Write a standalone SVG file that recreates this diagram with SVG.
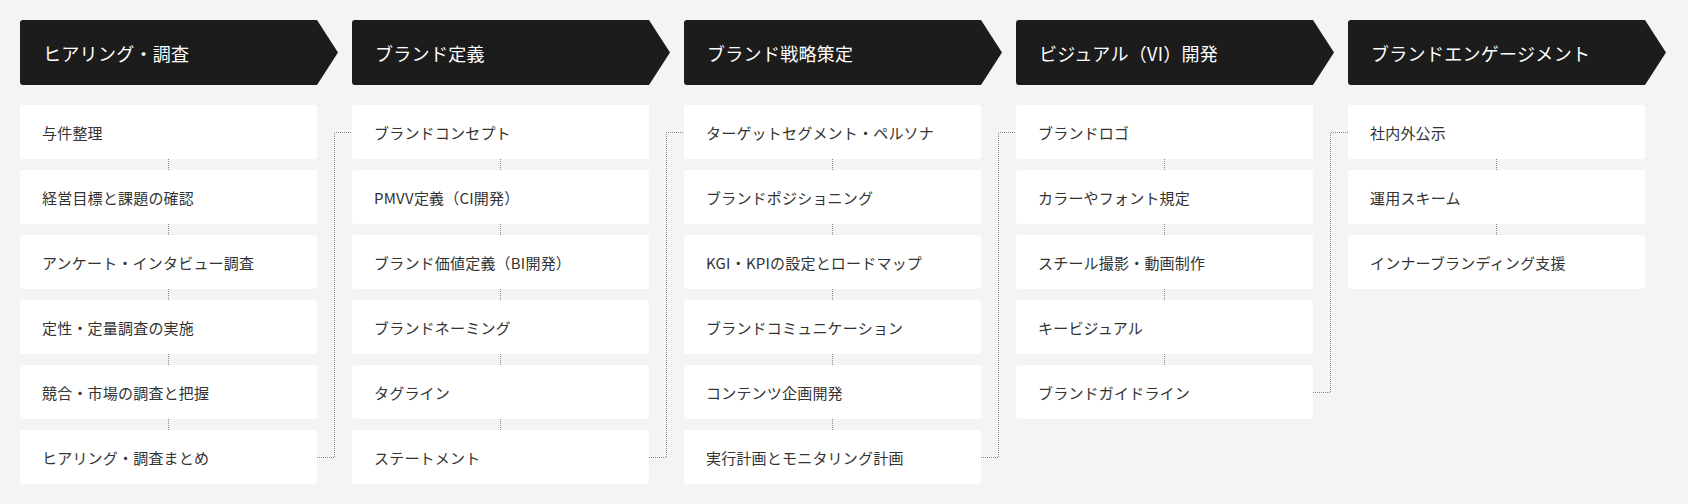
<svg xmlns="http://www.w3.org/2000/svg" width="1688" height="504" viewBox="0 0 1688 504">
<defs>
<style>
.hd{fill:#1c1c1c}
.ht{fill:#ffffff;font-family:"Noto Sans CJK JP","Noto Sans",sans-serif;font-size:18px;font-weight:400;letter-spacing:0.3px;dominant-baseline:central}
.bx{fill:#ffffff}
.bt{fill:#333333;font-family:"Noto Sans CJK JP","Noto Sans",sans-serif;font-size:15px;font-weight:400;letter-spacing:0.2px;dominant-baseline:central}
.cn{fill:none;stroke:#8a8a8a;stroke-width:1;stroke-dasharray:1 1}
</style>
</defs>
<rect width="1688" height="504" fill="#f4f4f4"/>
<g id="connectors">
<path class="cn" d="M168.5 159V170M168.5 224V235M168.5 289V300M168.5 354V365M168.5 419V430"/>
<path class="cn" d="M500.5 159V170M500.5 224V235M500.5 289V300M500.5 354V365M500.5 419V430"/>
<path class="cn" d="M832.5 159V170M832.5 224V235M832.5 289V300M832.5 354V365M832.5 419V430"/>
<path class="cn" d="M1164.5 159V170M1164.5 224V235M1164.5 289V300M1164.5 354V365"/>
<path class="cn" d="M1496.5 159V170M1496.5 224V235"/>
<path class="cn" d="M317 457.5H334.5V132.5H352"/>
<path class="cn" d="M649 457.5H666.5V132.5H684"/>
<path class="cn" d="M981 457.5H998.5V132.5H1016"/>
<path class="cn" d="M1313 392.5H1330.5V132.5H1348"/>
</g>
<g id="col1">
<path class="hd" d="M23 20H317L338 52.5L317 85H23Q20 85 20 82V23Q20 20 23 20Z"/>
<text class="ht" x="43" y="53">ヒアリング・調査</text>
<rect class="bx" x="20" y="105" width="297" height="54" rx="3"/><text class="bt" x="42" y="132.5">与件整理</text>
<rect class="bx" x="20" y="170" width="297" height="54" rx="3"/><text class="bt" x="42" y="197.5">経営目標と課題の確認</text>
<rect class="bx" x="20" y="235" width="297" height="54" rx="3"/><text class="bt" x="42" y="262.5">アンケート・インタビュー調査</text>
<rect class="bx" x="20" y="300" width="297" height="54" rx="3"/><text class="bt" x="42" y="327.5">定性・定量調査の実施</text>
<rect class="bx" x="20" y="365" width="297" height="54" rx="3"/><text class="bt" x="42" y="392.5">競合・市場の調査と把握</text>
<rect class="bx" x="20" y="430" width="297" height="54" rx="3"/><text class="bt" x="42" y="457.5">ヒアリング・調査まとめ</text>
</g>
<g id="col2">
<path class="hd" d="M355 20H649L670 52.5L649 85H355Q352 85 352 82V23Q352 20 355 20Z"/>
<text class="ht" x="375" y="53">ブランド定義</text>
<rect class="bx" x="352" y="105" width="297" height="54" rx="3"/><text class="bt" x="374" y="132.5">ブランドコンセプト</text>
<rect class="bx" x="352" y="170" width="297" height="54" rx="3"/><text class="bt" x="374" y="197.5">PMVV定義（CI開発）</text>
<rect class="bx" x="352" y="235" width="297" height="54" rx="3"/><text class="bt" x="374" y="262.5">ブランド価値定義（BI開発）</text>
<rect class="bx" x="352" y="300" width="297" height="54" rx="3"/><text class="bt" x="374" y="327.5">ブランドネーミング</text>
<rect class="bx" x="352" y="365" width="297" height="54" rx="3"/><text class="bt" x="374" y="392.5">タグライン</text>
<rect class="bx" x="352" y="430" width="297" height="54" rx="3"/><text class="bt" x="374" y="457.5">ステートメント</text>
</g>
<g id="col3">
<path class="hd" d="M687 20H981L1002 52.5L981 85H687Q684 85 684 82V23Q684 20 687 20Z"/>
<text class="ht" x="707" y="53">ブランド戦略策定</text>
<rect class="bx" x="684" y="105" width="297" height="54" rx="3"/><text class="bt" x="706" y="132.5">ターゲットセグメント・ペルソナ</text>
<rect class="bx" x="684" y="170" width="297" height="54" rx="3"/><text class="bt" x="706" y="197.5">ブランドポジショニング</text>
<rect class="bx" x="684" y="235" width="297" height="54" rx="3"/><text class="bt" x="706" y="262.5">KGI・KPIの設定とロードマップ</text>
<rect class="bx" x="684" y="300" width="297" height="54" rx="3"/><text class="bt" x="706" y="327.5">ブランドコミュニケーション</text>
<rect class="bx" x="684" y="365" width="297" height="54" rx="3"/><text class="bt" x="706" y="392.5">コンテンツ企画開発</text>
<rect class="bx" x="684" y="430" width="297" height="54" rx="3"/><text class="bt" x="706" y="457.5">実行計画とモニタリング計画</text>
</g>
<g id="col4">
<path class="hd" d="M1019 20H1313L1334 52.5L1313 85H1019Q1016 85 1016 82V23Q1016 20 1019 20Z"/>
<text class="ht" x="1039" y="53">ビジュアル（VI）開発</text>
<rect class="bx" x="1016" y="105" width="297" height="54" rx="3"/><text class="bt" x="1038" y="132.5">ブランドロゴ</text>
<rect class="bx" x="1016" y="170" width="297" height="54" rx="3"/><text class="bt" x="1038" y="197.5">カラーやフォント規定</text>
<rect class="bx" x="1016" y="235" width="297" height="54" rx="3"/><text class="bt" x="1038" y="262.5">スチール撮影・動画制作</text>
<rect class="bx" x="1016" y="300" width="297" height="54" rx="3"/><text class="bt" x="1038" y="327.5">キービジュアル</text>
<rect class="bx" x="1016" y="365" width="297" height="54" rx="3"/><text class="bt" x="1038" y="392.5">ブランドガイドライン</text>
</g>
<g id="col5">
<path class="hd" d="M1351 20H1645L1666 52.5L1645 85H1351Q1348 85 1348 82V23Q1348 20 1351 20Z"/>
<text class="ht" x="1371" y="53">ブランドエンゲージメント</text>
<rect class="bx" x="1348" y="105" width="297" height="54" rx="3"/><text class="bt" x="1370" y="132.5">社内外公示</text>
<rect class="bx" x="1348" y="170" width="297" height="54" rx="3"/><text class="bt" x="1370" y="197.5">運用スキーム</text>
<rect class="bx" x="1348" y="235" width="297" height="54" rx="3"/><text class="bt" x="1370" y="262.5">インナーブランディング支援</text>
</g>
</svg>
